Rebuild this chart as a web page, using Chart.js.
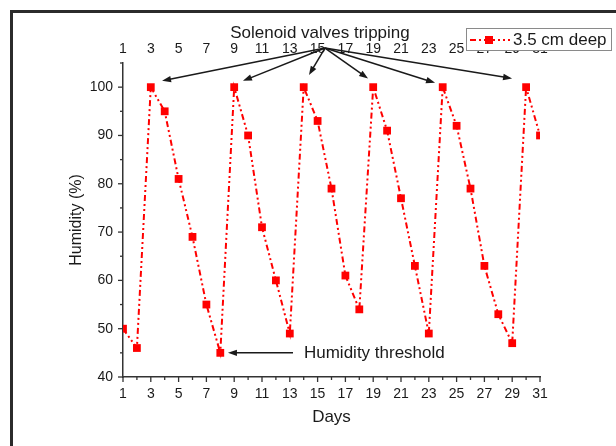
<!DOCTYPE html>
<html><head><meta charset="utf-8">
<script src="https://cdn.jsdelivr.net/npm/chart.js@4/dist/chart.umd.min.js"></script>
<style>html,body{margin:0;padding:0;background:#fff}#wrap{position:relative;width:616px;height:446px}</style>
</head><body><div id="wrap"><canvas id="c"></canvas></div>
<script>
const days = [1,2,3,4,5,6,7,8,9,10,11,12,13,14,15,16,17,18,19,20,21,22,23,24,25,26,27,28,29,30,31];
const humidity = [50,46,100,95,81,69,55,45,100,90,71,60,49,100,93,79,61,54,100,91,77,63,49,100,92,79,63,53,47,100,90];
const xTickLabels = [1,3,5,7,9,11,13,15,17,19,21,23,25,27,29,31];
const yTickLabels = [40,50,60,70,80,90,100];
const seriesLabel = '3.5 cm deep';
const titleText = 'Solenoid valves tripping';
const thresholdText = 'Humidity threshold';
const arrowOrigin = [15.53, 108.1];
const arrowTargets = [[3.81,101.3],[9.63,101.3],[14.38,102.5],[18.63,101.8],[23.45,100.9],[28.99,101.8]];
const titlePos = [15.17, 111.2];
const thresholdArrowFrom = [13.23, 45];
const thresholdArrowTo = [8.55, 45];
const thresholdTextPos = [14.02, 45];

const FONT = "'Liberation Sans', Arial, sans-serif";
const RED = '#ff0000';
const DASH = [6,3,2,3,2,3];

function arrow(ctx,x1,y1,x2,y2){
  const ang = Math.atan2(y2-y1,x2-x1), L=9, W=3.2;
  ctx.beginPath(); ctx.moveTo(x1,y1); ctx.lineTo(x2-L*0.6*Math.cos(ang), y2-L*0.6*Math.sin(ang)); ctx.stroke();
  ctx.beginPath(); ctx.moveTo(x2,y2);
  ctx.lineTo(x2-L*Math.cos(ang)+W*Math.sin(ang), y2-L*Math.sin(ang)-W*Math.cos(ang));
  ctx.lineTo(x2-L*Math.cos(ang)-W*Math.sin(ang), y2-L*Math.sin(ang)+W*Math.cos(ang));
  ctx.closePath(); ctx.fill();
}

const decor = {
  id: 'decor',
  beforeDraw(chart){
    const ctx = chart.ctx; ctx.save();
    ctx.fillStyle = '#fff'; ctx.fillRect(0,0,chart.width,chart.height);
    ctx.fillStyle = '#2b2b2b';
    ctx.fillRect(10,10,chart.width-10,3);
    ctx.fillRect(10,10,3,chart.height-10);
    ctx.restore();
  },
  afterDraw(chart){
    const ctx = chart.ctx, x = chart.scales.x, y = chart.scales.y, a = chart.chartArea;
    ctx.save();
    // tick marks
    ctx.strokeStyle = '#333'; ctx.lineWidth = 1.3;
    for (let d = x.min; d <= x.max; d++) {
      const px = x.getPixelForValue(d), len = (d % 2 === 1) ? 5 : 3;
      ctx.beginPath(); ctx.moveTo(px, a.bottom); ctx.lineTo(px, a.bottom + len); ctx.stroke();
    }
    for (let v = y.min; v <= y.max; v += 5) {
      const py = y.getPixelForValue(v), len = (v % 10 === 0) ? 5 : 3;
      ctx.beginPath(); ctx.moveTo(a.left - len, py); ctx.lineTo(a.left, py); ctx.stroke();
    }
    // annotations
    ctx.fillStyle = '#1a1a1a'; ctx.strokeStyle = '#1a1a1a'; ctx.lineWidth = 1.5;
    const ox = x.getPixelForValue(arrowOrigin[0]), oy = y.getPixelForValue(arrowOrigin[1]);
    arrowTargets.forEach(t => arrow(ctx, ox, oy, x.getPixelForValue(t[0]), y.getPixelForValue(t[1])));
    arrow(ctx, x.getPixelForValue(thresholdArrowFrom[0]), y.getPixelForValue(thresholdArrowFrom[1]),
               x.getPixelForValue(thresholdArrowTo[0]), y.getPixelForValue(thresholdArrowTo[1]));
    ctx.font = '17px ' + FONT; ctx.textBaseline = 'middle';
    ctx.textAlign = 'center';
    ctx.fillText(titleText, x.getPixelForValue(titlePos[0]), y.getPixelForValue(titlePos[1]));
    ctx.textAlign = 'left';
    ctx.fillText(thresholdText, x.getPixelForValue(thresholdTextPos[0]), y.getPixelForValue(thresholdTextPos[1]));
    // legend
    ctx.fillStyle = '#fff'; ctx.fillRect(466, 28, 146, 23);
    ctx.strokeStyle = '#8a8a8a'; ctx.lineWidth = 1; ctx.strokeRect(466.5, 28.5, 145, 22);
    ctx.strokeStyle = RED; ctx.lineWidth = 2; ctx.setLineDash(DASH);
    ctx.beginPath(); ctx.moveTo(470, 40); ctx.lineTo(510, 40); ctx.stroke(); ctx.setLineDash([]);
    ctx.fillStyle = RED; ctx.fillRect(485, 36, 8, 8);
    ctx.fillStyle = '#1a1a1a'; ctx.font = '17px ' + FONT; ctx.textAlign = 'left';
    ctx.fillText(seriesLabel, 513, 40.5);
    ctx.restore();
  }
};

const tickFont = { family: FONT, size: 14 };
new Chart(document.getElementById('c'), {
  type: 'line',
  data: {
    datasets: [{
      label: seriesLabel,
      data: days.map((d, i) => ({ x: d, y: humidity[i] })),
      borderColor: RED, backgroundColor: RED, borderWidth: 2, borderDash: DASH,
      pointStyle: 'rect', pointRadius: 5.5, pointBackgroundColor: RED, pointBorderWidth: 0,
      tension: 0, clip: 0
    }]
  },
  plugins: [decor],
  options: {
    responsive: true, maintainAspectRatio: false, animation: false,
    layout: { padding: { left: 0, right: 76, top: 0, bottom: 0 } },
    plugins: { legend: { display: false }, tooltip: { enabled: false } },
    scales: {
      x: {
        type: 'linear', position: 'bottom', min: 1, max: 31,
        afterBuildTicks: s => { s.ticks = xTickLabels.map(v => ({ value: v })); },
        afterFit: s => { s.height = 69; },
        grid: { display: true, drawOnChartArea: false, drawTicks: false },
        border: { display: true, color: '#333', width: 1.5 },
        ticks: { font: tickFont, color: '#1a1a1a', padding: 9, maxRotation: 0, autoSkip: false },
        title: { display: true, text: 'Days', font: { family: FONT, size: 17 }, color: '#1a1a1a', padding: { top: 0, bottom: 18 } }
      },
      x2: {
        type: 'linear', position: 'top', min: 1, max: 31,
        afterBuildTicks: s => { s.ticks = xTickLabels.map(v => ({ value: v })); },
        afterFit: s => { s.height = 63; },
        grid: { display: false, drawTicks: false },
        border: { display: false },
        ticks: { font: tickFont, color: '#1a1a1a', padding: 5, maxRotation: 0, autoSkip: false }
      },
      y: {
        type: 'linear', position: 'left', min: 40, max: 105,
        afterBuildTicks: s => { s.ticks = yTickLabels.map(v => ({ value: v })); },
        afterFit: s => { s.width = 123; },
        grid: { display: true, drawOnChartArea: false, drawTicks: false },
        border: { display: true, color: '#333', width: 1.5 },
        ticks: { font: tickFont, color: '#1a1a1a', padding: 10 },
        title: { display: true, text: 'Humidity (%)', font: { family: FONT, size: 16 }, color: '#1a1a1a', padding: { top: 67, bottom: 0 } }
      }
    }
  }
});
</script>
</body></html>
